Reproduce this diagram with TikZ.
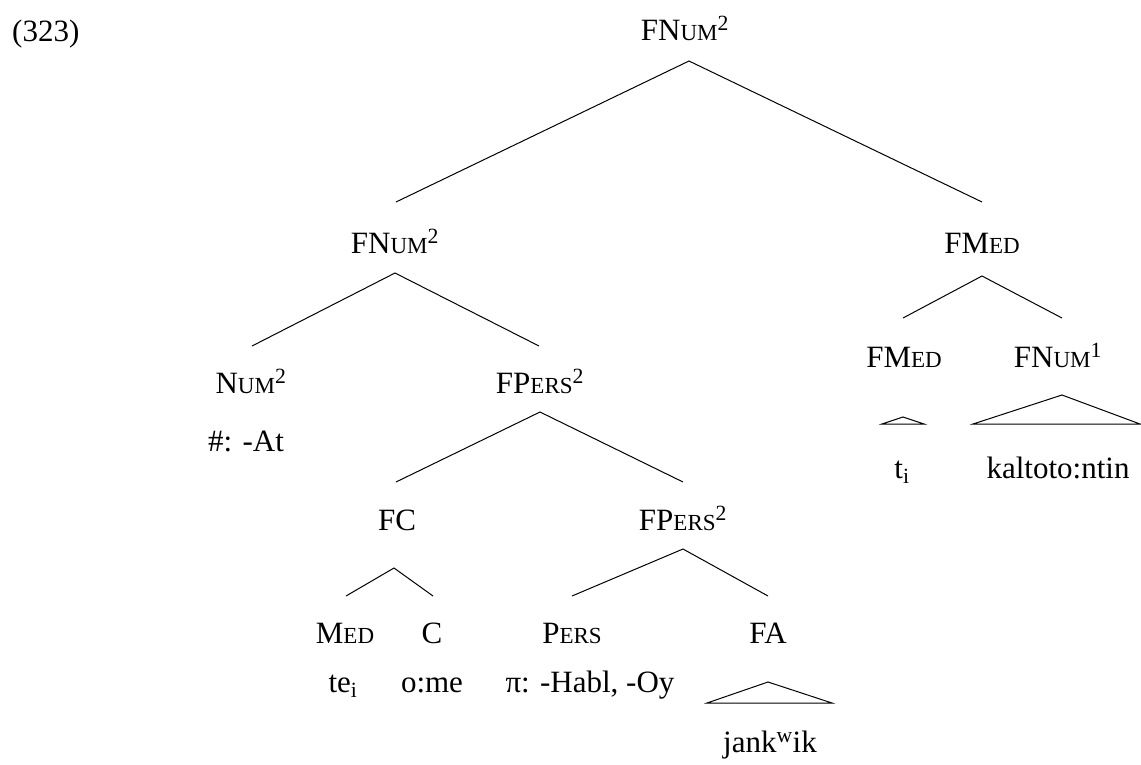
\documentclass[tikz,border=0pt]{standalone}
\usepackage{fontspec}
\setmainfont{Liberation Serif}
% small capitals, set as reduced capitals
\newcommand\smallcaps[1]{{\fontsize{23}{27}\selectfont #1}}
\begin{document}
\begin{tikzpicture}[x=1pt,y=-1pt,
  lbl/.style={anchor=base,inner sep=0pt,font=\fontsize{31}{37}\selectfont},
  branch/.style={line width=1pt,line join=miter},
  roof/.style={line width=1pt,line join=miter}]
\useasboundingbox (0,0) rectangle (1141,764);

% example number
\node[lbl,anchor=base west] (exnum) at (12,41) {(323)};

% labels
\node[lbl] (root) at (685,40) {FN\smallcaps{UM}\textsuperscript{2}};
\node[lbl] (fnum) at (395,253) {FN\smallcaps{UM}\textsuperscript{2}};
\node[lbl] (fmed) at (982,253) {FM\smallcaps{ED}};
\node[lbl] (num) at (251,393) {N\smallcaps{UM}\textsuperscript{2}};
\node[lbl] (at) at (246,451) {\#: -At};
\node[lbl] (fpers) at (540,393) {FP\smallcaps{ERS}\textsuperscript{2}};
\node[lbl] (fc) at (397,530) {FC};
\node[lbl] (fpersb) at (683,530) {FP\smallcaps{ERS}\textsuperscript{2}};
\node[lbl] (med) at (345,643) {M\smallcaps{ED}};
\node[lbl] (c) at (432,643) {C};
\node[lbl] (pers) at (572,643) {P\smallcaps{ERS}};
\node[lbl] (fa) at (768,643) {FA};
\node[lbl] (tei) at (343,692) {te\textsubscript{i}};
\node[lbl] (ome) at (432,692) {o:me};
\node[lbl] (pi) at (590,692) {π: -Habl, -Oy};
\node[lbl] (jank) at (770,752) {jank\textsuperscript{w}ik};
\node[lbl] (fmedb) at (904,367) {FM\smallcaps{ED}};
\node[lbl] (fnumb) at (1058,367) {FN\smallcaps{UM}\textsuperscript{1}};
\node[lbl] (ti) at (902,478) {t\textsubscript{i}};
\node[lbl] (kalt) at (1058,478) {kaltoto:ntin};

% branch points
\coordinate (root-s) at (689,61);
\coordinate (fnum-n) at (396,202);
\coordinate (fmed-n) at (982,202);
\coordinate (fnum-s) at (395,273);
\coordinate (num-n) at (252,346);
\coordinate (fpers-n) at (539,346);
\coordinate (fmed-s) at (982,276);
\coordinate (fmedb-n) at (903,318);
\coordinate (fnumb-n) at (1062,318);
\coordinate (fpers-s) at (540,412);
\coordinate (fc-n) at (396,482);
\coordinate (fpersb-n) at (683,482);
\coordinate (fc-s) at (394,568);
\coordinate (med-n) at (346,596);
\coordinate (c-n) at (433,596);
\coordinate (fpersb-s) at (683,549);
\coordinate (pers-n) at (572,596);
\coordinate (fa-n) at (768,596);

% roofs
\coordinate (fa-s) at (768,682);
\coordinate (fa-l) at (707,703);
\coordinate (fa-r) at (832,703);
\coordinate (fmedb-s) at (903,417);
\coordinate (fmedb-l) at (882,424);
\coordinate (fmedb-r) at (924,424);
\coordinate (fnumb-s) at (1062,395);
\coordinate (fnumb-l) at (973,424);
\coordinate (fnumb-r) at (1140,424);

% branches
\draw[branch] (fnum-n) -- (root-s) -- (fmed-n);
\draw[branch] (num-n) -- (fnum-s) -- (fpers-n);
\draw[branch] (fmedb-n) -- (fmed-s) -- (fnumb-n);
\draw[branch] (fc-n) -- (fpers-s) -- (fpersb-n);
\draw[branch] (med-n) -- (fc-s) -- (c-n);
\draw[branch] (pers-n) -- (fpersb-s) -- (fa-n);

% triangles
\draw[roof] (fa-l) -- (fa-s) -- (fa-r) -- cycle;
\draw[roof] (fmedb-l) -- (fmedb-s) -- (fmedb-r) -- cycle;
\draw[roof] (fnumb-l) -- (fnumb-s) -- (fnumb-r) -- cycle;
\end{tikzpicture}
\end{document}
